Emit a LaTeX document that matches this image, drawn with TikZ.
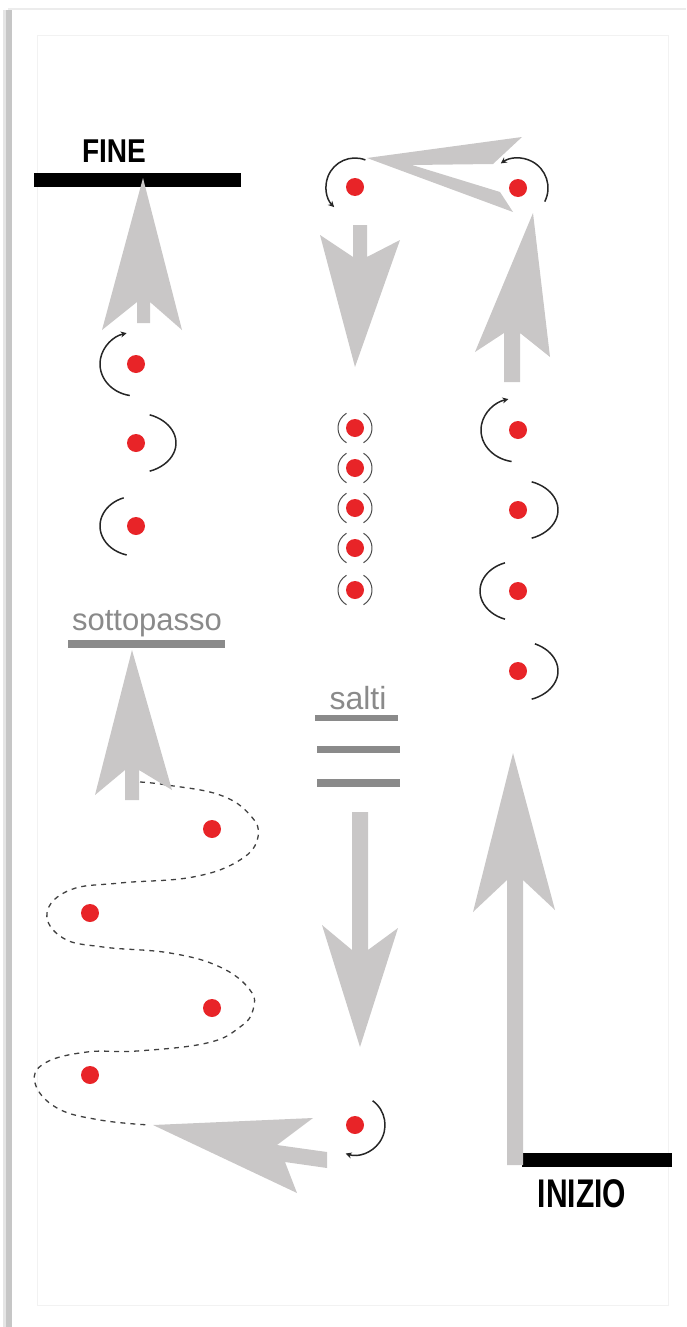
\documentclass[tikz,border=0pt]{standalone}
\usepackage{fontspec}
\setmainfont{Liberation Sans}
\usepackage{graphicx}
\usetikzlibrary{arrows.meta}
\definecolor{arrowgray}{RGB}{201,199,199}
\definecolor{dotred}{RGB}{232,36,40}
\definecolor{labelgray}{RGB}{138,138,138}

\begin{document}
\begin{tikzpicture}[x=1pt, y=-1pt,
    dot/.style={circle, fill=dotred, inner sep=0pt, minimum size=18pt},
    turn/.style={black!85, line width=1.5pt},
    turnarrow/.style={turn, -{Stealth[length=6pt, width=6pt]}},
    ring/.style={black!70, line width=1pt},
    spear/.style={fill=arrowgray},
    trail/.style={black!75, line width=1.3pt, dash pattern=on 5pt off 5pt},
    bigword/.style={font=\bfseries, anchor=base},
    grayword/.style={text=labelgray, anchor=base}]
    \useasboundingbox (0,0) rectangle (686,1327);

    % Page frame
    \fill[gray!20] (3,10) rectangle (6,1327);
    \fill[gray!45] (6,10) rectangle (12,1327);
    \draw[gray!15, line width=1.5pt] (8,9) -- (686,9);
    \draw[gray!10, line width=0.8pt] (37,35) rectangle (668,1305);

    % Start and end lines
    \fill (34,173) rectangle (241,187);
    \node[bigword] (fine) at (114,162) {\fontsize{33}{33}\selectfont\scalebox{0.85}[1]{FINE}};
    \fill (522,1153) rectangle (672,1167);
    \node[bigword] (inizio) at (582,1207) {\fontsize{40}{40}\selectfont\scalebox{0.75}[1]{INIZIO}};

    % Underpass and jumps
    \fill[labelgray] (68,640) rectangle (225,648);
    \node[grayword] (sotto) at (147,630) {\fontsize{31}{31}\selectfont sottopasso};
    \node[grayword] (salti) at (358,709) {\fontsize{32}{32}\selectfont salti};
    \fill[labelgray] (315,715) rectangle (398,721);
    \fill[labelgray] (317,746) rectangle (400,753);
    \fill[labelgray] (317,779) rectangle (400,787);

    % Cones
    \node[dot] (fa) at (136,364) {};
    \node[dot] (fb) at (136,443) {};
    \node[dot] (fc) at (136,526) {};
    \node[dot] (ra) at (518,430) {};
    \node[dot] (rb) at (518,510) {};
    \node[dot] (rc) at (518,591) {};
    \node[dot] (rd) at (518,671) {};
    \node[dot] (tr) at (518,188) {};
    \node[dot] (tl) at (355,187) {};
    \node[dot] (m1) at (355,428) {};
    \node[dot] (m2) at (355,468) {};
    \node[dot] (m3) at (355,508) {};
    \node[dot] (m4) at (355,548) {};
    \node[dot] (m5) at (355,590) {};
    \node[dot] (bm) at (355,1125) {};
    \node[dot] (s1) at (212,829) {};
    \node[dot] (s2) at (90,913) {};
    \node[dot] (s3) at (212,1008) {};
    \node[dot] (s4) at (90,1075) {};

    % Slalom round the cones
    \draw[turnarrow] ([shift={(100:36 and 32)}]fa.center) arc[start angle=100, end angle=255, x radius=36, y radius=32];
    \draw[turn] ([shift={(-70:40 and 30)}]fb.center) arc[start angle=-70, end angle=70, x radius=40, y radius=30];
    \draw[turn] ([shift={(250:36 and 30)}]fc.center) arc[start angle=250, end angle=105, x radius=36, y radius=30];
    \draw[turnarrow] ([shift={(100:37 and 32)}]ra.center) arc[start angle=100, end angle=255, x radius=37, y radius=32];
    \draw[turn] ([shift={(-70:40 and 30)}]rb.center) arc[start angle=-70, end angle=70, x radius=40, y radius=30];
    \draw[turn] ([shift={(250:38 and 30)}]rc.center) arc[start angle=250, end angle=110, x radius=38, y radius=30];
    \draw[turn] ([shift={(-65:40 and 30)}]rd.center) arc[start angle=-65, end angle=70, x radius=40, y radius=30];

    % Turns
    \draw[turnarrow] ([shift={(27:30)}]tr.center) arc[start angle=27, end angle=-125, radius=30];
    \draw[turnarrow] ([shift={(-69:29)}]tl.center) arc[start angle=-69, end angle=-224, radius=29];
    \draw[turnarrow] ([shift={(-54:30)}]bm.center) arc[start angle=-54, end angle=108, radius=30];

    % Spins on the spot
    \draw[ring] ([shift={(120:17)}]m1.center) arc[start angle=120, end angle=240, radius=17];
    \draw[ring] ([shift={(-60:17)}]m1.center) arc[start angle=-60, end angle=60, radius=17];
    \draw[ring] ([shift={(120:17)}]m2.center) arc[start angle=120, end angle=240, radius=17];
    \draw[ring] ([shift={(-60:17)}]m2.center) arc[start angle=-60, end angle=60, radius=17];
    \draw[ring] ([shift={(120:17)}]m3.center) arc[start angle=120, end angle=240, radius=17];
    \draw[ring] ([shift={(-60:17)}]m3.center) arc[start angle=-60, end angle=60, radius=17];
    \draw[ring] ([shift={(120:17)}]m4.center) arc[start angle=120, end angle=240, radius=17];
    \draw[ring] ([shift={(-60:17)}]m4.center) arc[start angle=-60, end angle=60, radius=17];
    \draw[ring] ([shift={(120:17)}]m5.center) arc[start angle=120, end angle=240, radius=17];
    \draw[ring] ([shift={(-60:17)}]m5.center) arc[start angle=-60, end angle=60, radius=17];

    % Serpentine
    \draw[trail] plot[smooth, tension=0.7] coordinates {(140,782) (167,785) (220,795) (250,815) (258,837) (240,860) (193,877) (120,883) (70,890) (47,913) (63,938) (103,947) (170,953) (220,967) (250,990) (253,1010) (240,1027) (207,1043) (137,1051) (87,1052) (45,1063) (35,1083) (57,1108) (100,1120) (150,1125)};

    % Big direction arrows
    \fill[spear] (513,753) -- (555,910) -- (523,880) -- (523,1165) -- (507,1165) -- (507,880) -- (473,912) -- cycle;
    \fill[spear] (533,213) -- (550,357) -- (520,333) -- (520,382) -- (504,382) -- (504,333) -- (475,352) -- cycle;
    \fill[spear] (367,158) -- (522,137) -- (493,164) -- (412,165) -- (500,192) -- (513,212) -- cycle;
    \fill[spear] (353,225) -- (367,225) -- (367,257) -- (400,240) -- (355,367) -- (320,235) -- (353,257) -- cycle;
    \fill[spear] (352,812) -- (368,812) -- (368,950) -- (398,928) -- (360,1047) -- (322,925) -- (352,950) -- cycle;
    \fill[spear] (153,1125) -- (313,1118) -- (277,1145) -- (327,1152) -- (327,1168) -- (285,1162) -- (297,1193) -- cycle;
    \fill[spear] (132,650) -- (172,790) -- (139,770) -- (139,800) -- (125,800) -- (125,770) -- (95,795) -- cycle;
    \fill[spear] (143,178) -- (182,330) -- (150,302) -- (150,323) -- (137,323) -- (137,302) -- (102,330) -- cycle;
\end{tikzpicture}
\end{document}
